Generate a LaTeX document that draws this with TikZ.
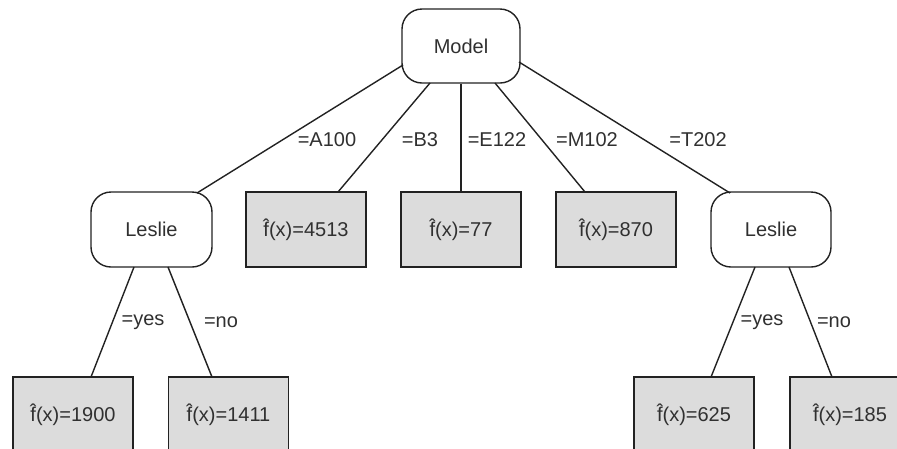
\documentclass[tikz,border=0pt]{standalone}
\usepackage{fontspec}
\setmainfont{Liberation Sans}
\definecolor{leafgray}{HTML}{DCDCDC}
\definecolor{inkgray}{HTML}{222222}
\definecolor{txtgray}{HTML}{303030}
\begin{document}
\begin{tikzpicture}[x=1pt,y=-1pt,
  every node/.style={font=\fontsize{20}{22}\selectfont, text=txtgray},
  splitnode/.style={draw=inkgray, line width=1.4pt, rounded corners=20pt, fill=white,
    minimum width=120pt, minimum height=75pt, inner sep=0pt},
  leafnode/.style={draw=inkgray, line width=1.4pt, fill=leafgray,
    minimum width=120pt, minimum height=75pt, inner sep=0pt},
  edgeline/.style={draw=inkgray, line width=1.4pt},
  edgelabel/.style={inner sep=0pt}]
\useasboundingbox (0,0) rectangle (897,448);
\clip (0,0) rectangle (897,448);

% nodes
\node[splitnode, minimum width=118pt, minimum height=74pt] (model) at (461,46) {Model};
\node[splitnode, minimum width=121pt] (lesL) at (151.5,229.5) {Leslie};
\node[leafnode] (b4513) at (306,229.5) {f̂(x)=4513};
\node[leafnode] (b77) at (461,229.5) {f̂(x)=77};
\node[leafnode] (b870) at (616,229.5) {f̂(x)=870};
\node[splitnode] (lesR) at (771,229.5) {Leslie};
\node[leafnode] (b1900) at (73,414.5) {f̂(x)=1900};
\node[leafnode] (b1411) at (228.5,414.5) {f̂(x)=1411};
\node[leafnode] (b625) at (694,414.5) {f̂(x)=625};
\node[leafnode] (b185) at (850,414.5) {f̂(x)=185};

% connectors
\draw[edgeline] ([shift={(-58,19)}]model.center) -- ([shift={(45.5,-36.5)}]lesL.center);
\draw[edgeline] ([shift={(-31,37)}]model.center) -- ([shift={(32,-37.5)}]b4513.center);
\draw[edgeline] (model.south) -- (b77.north);
\draw[edgeline] ([shift={(34,37)}]model.center) -- ([shift={(-31,-37.5)}]b870.center);
\draw[edgeline] ([shift={(58,16)}]model.center) -- ([shift={(-41,-36.5)}]lesR.center);

\draw[edgeline] ([shift={(-17.5,37.5)}]lesL.center) -- ([shift={(18,-37.5)}]b1900.center);
\draw[edgeline] ([shift={(16.5,37.5)}]lesL.center) -- ([shift={(-16.5,-37.5)}]b1411.center);
\draw[edgeline] ([shift={(-16,37.5)}]lesR.center) -- ([shift={(17,-37.5)}]b625.center);
\draw[edgeline] ([shift={(18,37.5)}]lesR.center) -- ([shift={(-18,-37.5)}]b185.center);

% labels
\node[edgelabel] (lA) at (327,140) {=A100};
\node[edgelabel] (lB) at (420,140) {=B3};
\node[edgelabel] (lE) at (497,140) {=E122};
\node[edgelabel] (lM) at (587,140) {=M102};
\node[edgelabel] (lT) at (698,140) {=T202};
\node[edgelabel] (lyL) at (143,322) {=yes};
\node[edgelabel] (lnL) at (221,322) {=no};
\node[edgelabel] (lyR) at (762,322) {=yes};
\node[edgelabel] (lnR) at (834,322) {=no};
\end{tikzpicture}
\end{document}
